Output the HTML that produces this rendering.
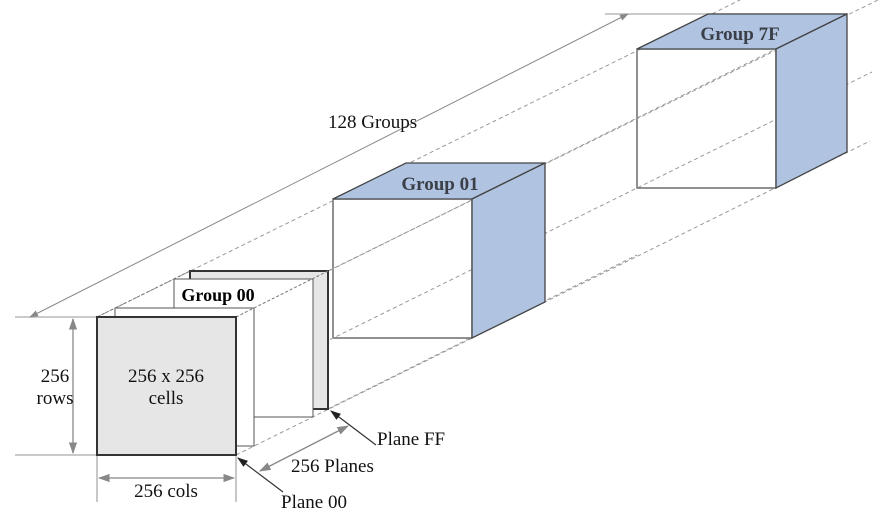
<!DOCTYPE html>
<html><head><meta charset="utf-8"><style>
html,body{margin:0;padding:0;background:#fff;}
svg{display:block;font-family:"Liberation Serif",serif;}
</style></head><body>
<svg width="890" height="516" viewBox="0 0 890 516">
<defs>
<marker id="ag" viewBox="0 0 10 10" refX="9" refY="5" markerWidth="9" markerHeight="9" orient="auto-start-reverse"><path d="M0,1.5 L10,5 L0,8.5 z" fill="#888"/></marker>
<marker id="ak" viewBox="0 0 10 10" refX="9" refY="5" markerWidth="9" markerHeight="9" orient="auto"><path d="M0,1.5 L10,5 L0,8.5 z" fill="#222"/></marker>
</defs>

<g stroke="#aaa" stroke-width="1.3">
<line x1="15" y1="317" x2="97" y2="317"/>
<line x1="15" y1="455" x2="97" y2="455"/>
<line x1="97" y1="455" x2="97" y2="502"/>
<line x1="236" y1="455" x2="236" y2="502"/>
<line x1="605" y1="14" x2="847" y2="14"/>
</g>

<line x1="30" y1="317" x2="628" y2="14" stroke="#888" stroke-width="1" marker-start="url(#ag)" marker-end="url(#ag)"/>
<text x="328" y="128" font-size="19" fill="#111">128 Groups</text>

<rect x="333" y="199" width="139" height="139" fill="#fff" stroke="#555" stroke-width="1.3"/>
<rect x="637" y="49" width="139" height="139" fill="#fff" stroke="#555" stroke-width="1.3"/>

<g stroke="#999" stroke-width="1" stroke-dasharray="4,3" fill="none">
<line x1="97" y1="317" x2="740" y2="0"/>
<line x1="236" y1="317" x2="776" y2="49"/>
<line x1="328" y1="271" x2="878" y2="0"/>
<line x1="236" y1="386" x2="872" y2="72"/>
<line x1="236" y1="455" x2="870" y2="141"/>
<line x1="328" y1="409" x2="637" y2="255"/>
</g>

<g>
<rect x="190" y="271" width="138" height="138" fill="#e6e6e6" stroke="#333" stroke-width="2"/>
<rect x="174" y="279" width="139" height="138" fill="#fff" stroke="#555" stroke-width="1"/>
<rect x="115" y="308" width="139" height="138" fill="#fff" stroke="#555" stroke-width="1"/>
<g stroke="#777" stroke-width="1" stroke-dasharray="3,2">
<line x1="97" y1="317" x2="190" y2="271"/>
<line x1="236" y1="317" x2="328" y2="271"/>
</g>
<rect x="97" y="317" width="139" height="138" fill="#e6e6e6" stroke="#333" stroke-width="2"/>
<text x="218" y="301" font-size="18" font-weight="bold" text-anchor="middle" fill="#000">Group 00</text>
<text x="166" y="382" font-size="19" text-anchor="middle" fill="#111">256 x 256</text>
<text x="166" y="404" font-size="19" text-anchor="middle" fill="#111">cells</text>
</g>

<g>
<polygon points="333,199 406,163 545,163 472,199" fill="#b0c4e2" stroke="#444" stroke-width="1.3"/>
<polygon points="472,199 545,163 545,302 472,338" fill="#b0c4e2" stroke="#444" stroke-width="1.3"/>
<text x="440" y="190" font-size="19" font-weight="bold" text-anchor="middle" fill="#3b3f48">Group 01</text>
</g>
<g>
<polygon points="637,49 708,14 847,14 776,49" fill="#b0c4e2" stroke="#444" stroke-width="1.3"/>
<polygon points="776,49 847,14 847,152 776,188" fill="#b0c4e2" stroke="#444" stroke-width="1.3"/>
<text x="740" y="40" font-size="19" font-weight="bold" text-anchor="middle" fill="#3b3f48">Group 7F</text>
</g>

<line x1="73" y1="319" x2="73" y2="453" stroke="#888" stroke-width="1.3" marker-start="url(#ag)" marker-end="url(#ag)"/>
<text x="55" y="382" font-size="19" text-anchor="middle" fill="#111">256</text>
<text x="55" y="404" font-size="19" text-anchor="middle" fill="#111">rows</text>
<line x1="99" y1="478" x2="234" y2="478" stroke="#888" stroke-width="1.3" marker-start="url(#ag)" marker-end="url(#ag)"/>
<text x="166" y="497" font-size="19" text-anchor="middle" fill="#111">256 cols</text>
<line x1="260" y1="471" x2="348" y2="426" stroke="#888" stroke-width="1.3" marker-start="url(#ag)" marker-end="url(#ag)"/>
<text x="291" y="472" font-size="19" fill="#111">256 Planes</text>

<line x1="283" y1="492" x2="238" y2="458" stroke="#333" stroke-width="1.2" marker-end="url(#ak)"/>
<text x="281" y="508" font-size="19" fill="#111">Plane 00</text>
<line x1="376" y1="445" x2="331" y2="411" stroke="#333" stroke-width="1.2" marker-end="url(#ak)"/>
<text x="377" y="445" font-size="19" fill="#111">Plane FF</text>
</svg>
</body></html>
